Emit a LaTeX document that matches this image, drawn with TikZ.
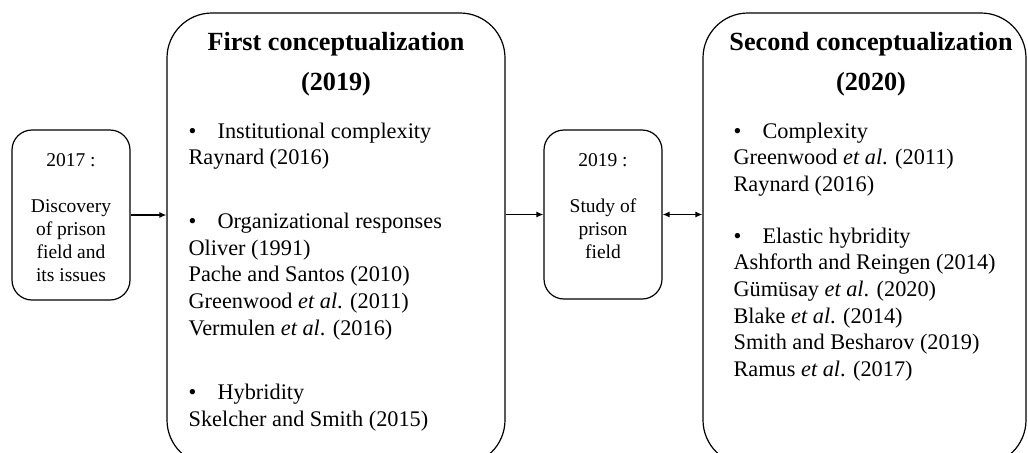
\documentclass[tikz,border=0pt]{standalone}
\usepackage{fontspec}
\setmainfont{Liberation Serif}
\usetikzlibrary{arrows.meta}
\begin{document}
\begin{tikzpicture}[x=0.5pt,y=-0.5pt,line width=0.6pt,
  smallbox/.style={draw,rounded corners=10pt,minimum width=59pt,minimum height=85pt,inner sep=0pt},
  bigbox/.style={draw,rounded corners=22.5pt,minimum width=169pt,minimum height=226pt,inner sep=0pt},
  smalltext/.style={align=center,inner sep=0pt,font=\fontsize{9.75}{11.5}\selectfont},
  titletext/.style={align=center,inner sep=0pt,font=\fontsize{13.1}{20}\selectfont\bfseries},
  bodytext/.style={align=left,inner sep=0pt,anchor=north west,font=\fontsize{11.15}{13.35}\selectfont},
  arr/.style={-{Latex[length=3.5pt,width=3pt]}},
  dblarr/.style={{Latex[length=3.5pt,width=3pt]}-{Latex[length=3.5pt,width=3pt]}}]
\useasboundingbox (0,0) rectangle (1028,452);
\newcommand{\bul}{\makebox[14.5pt][l]{\textbullet}}
% boxes
\node[smallbox] (disc) at (71,215) {};
\node[bigbox] (first) at (336,239) {};
\node[smallbox,minimum height=84.5pt] (study) at (603,214.5) {};
\node[bigbox,minimum width=161.5pt] (second) at (864.5,239) {};
% texts
\node[smalltext] (disctext) at ([yshift=-1.5pt]disc.center) {2017 :\\[11.5pt]Discovery\\of prison\\field and\\its issues};
\node[smalltext,anchor=north] (studytext) at (603,153) {2019 :\\[11.5pt]Study of\\prison\\field};
\node[titletext,anchor=north] (firsttitle) at (336,32) {First conceptualization\\(2019)};
\node[titletext,anchor=north] (secondtitle) at (871,32) {Second conceptualization\\(2020)};
\node[bodytext] (firstbody) at (188,122) {\bul Institutional complexity\\
Raynard (2016)\\[18.5pt]
\bul Organizational responses\\
Oliver (1991)\\
Pache and Santos (2010)\\
Greenwood \textit{et al}. (2011)\\
Vermulen \textit{et al}. (2016)\\[19pt]
\bul Hybridity\\
Skelcher and Smith (2015)};
\node[bodytext] (secondbody) at (733,122) {\bul Complexity\\
Greenwood \textit{et al}. (2011)\\
Raynard (2016)\\[12.5pt]
\bul Elastic hybridity\\
Ashforth and Reingen (2014)\\
Gümüsay \textit{et al}. (2020)\\
Blake \textit{et al}. (2014)\\
Smith and Besharov (2019)\\
Ramus \textit{et al}. (2017)};
% arrows
\draw[arr] (disc.east) -- (disc.east -| first.west);
\draw[arr] (study.west -| first.east) -- (study.west);
\draw[dblarr] (study.east) -- (study.east -| second.west);
\end{tikzpicture}
\end{document}
